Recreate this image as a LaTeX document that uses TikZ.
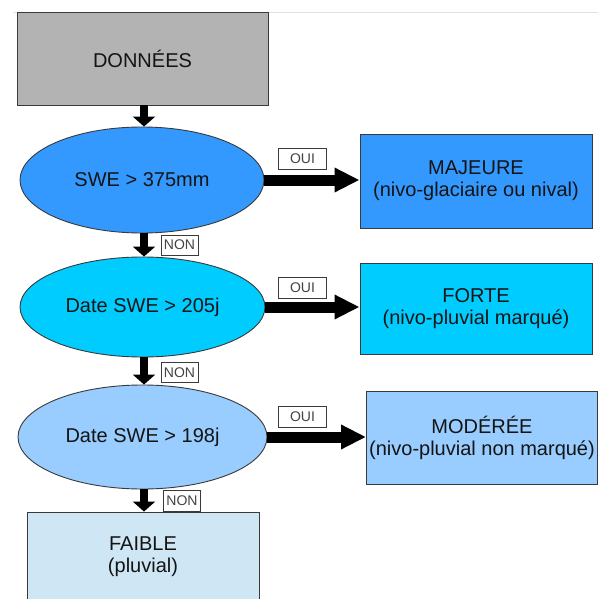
\documentclass[tikz,border=0pt]{standalone}
\usepackage{fontspec}
\setmainfont{Liberation Sans}
\usetikzlibrary{shapes.geometric,arrows.meta}
\definecolor{cgray}{HTML}{B3B3B3}
\definecolor{cblue}{HTML}{3399FF}
\definecolor{ccyan}{HTML}{00CCFF}
\definecolor{clight}{HTML}{99CCFF}
\definecolor{cpale}{HTML}{CFE7F5}
\definecolor{cline}{HTML}{3A3A3A}
\definecolor{ctext}{HTML}{141414}
\tikzset{
  box/.style={draw=cline, line width=0.9pt, rectangle, align=center, text=ctext,
    font=\fontsize{20}{22}\selectfont, inner sep=0pt},
  oval/.style={draw=cline, line width=0.9pt, ellipse, align=center, text=ctext,
    font=\fontsize{20}{22}\selectfont, inner sep=0pt},
  tag/.style={draw=cline, line width=0.7pt, fill=white, rectangle, text=ctext!80,
    font=\fontsize{14}{15}\selectfont, inner sep=0pt},
  down/.style={line width=8.5pt, -{Triangle[length=10pt,width=22pt]}},
  right/.style={line width=11pt, -{Triangle[length=25pt,width=23pt]}},
}
\begin{document}
\begin{tikzpicture}[x=1pt,y=-1pt]
\useasboundingbox (0,0) rectangle (598,599);
\fill[white] (0,0) rectangle (598,599);
\draw[black!12, line width=0.8pt] (13,12) -- (598,12);

\node[box, fill=cgray, minimum width=251pt, minimum height=93pt] (don) at (142.5,58.5) {DONNÉES};
\node[oval, fill=cblue, minimum width=244pt, minimum height=106pt] (e1) at (142,180) {SWE > 375mm};
\node[oval, fill=ccyan, minimum width=245pt, minimum height=100pt] (e2) at (142.5,307) {Date SWE > 205j};
\node[oval, fill=clight, minimum width=249pt, minimum height=104pt] (e3) at (142.5,437) {Date SWE > 198j};

\node[box, fill=cblue, minimum width=232pt, minimum height=94pt] (maj) at (476,181) {MAJEURE\\(nivo-glaciaire ou nival)};
\node[box, fill=ccyan, minimum width=232pt, minimum height=91pt] (forte) at (476,308.5) {FORTE\\(nivo-pluvial marqué)};
\node[box, fill=clight, minimum width=231pt, minimum height=93pt] (mod) at (482,437.5) {MODÉRÉE\\(nivo-pluvial non marqué)};
\node[box, fill=cpale, minimum width=232pt, minimum height=90pt] (faible) at (143,557) {FAIBLE\\(pluvial)};

\coordinate (d1) at (144,105.5);
\coordinate (d2) at (144,233);
\coordinate (d3) at (144,357);
\coordinate (d4) at (144,489);
\draw[down] (don.south -| d1) -- (e1.north -| d1);
\draw[down] (e1.south -| d2) -- (e2.north -| d2);
\draw[down] (e2.south -| d3) -- (e3.north -| d3);
\draw[down] (e3.south -| d4) -- (faible.north -| d4);

\draw[right] (e1.east) -- (e1.east -| maj.west);
\draw[right] (e2.east) -- (e2.east -| forte.west);
\draw[right] (e3.east) -- (e3.east -| mod.west);

\node[tag, minimum width=48pt, minimum height=21pt] (oui1) at (302.5,159) {OUI};
\node[tag, minimum width=48pt, minimum height=21pt] (oui2) at (302.5,288) {OUI};
\node[tag, minimum width=48pt, minimum height=21pt] (oui3) at (302.5,417) {OUI};
\node[tag, minimum width=37pt, minimum height=20pt] (non1) at (179.5,245) {NON};
\node[tag, minimum width=37pt, minimum height=20pt] (non2) at (179.5,372.5) {NON};
\node[tag, minimum width=37pt, minimum height=21pt] (non3) at (182,501) {NON};
\end{tikzpicture}
\end{document}
